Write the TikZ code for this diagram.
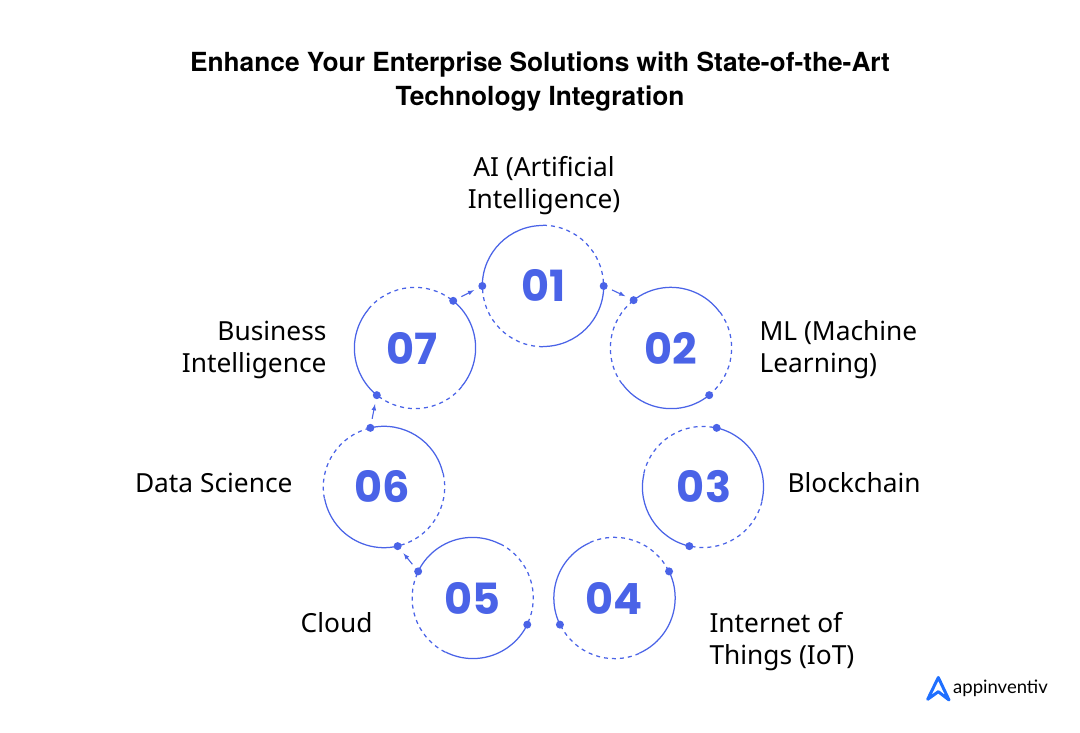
\documentclass[tikz,border=0pt]{standalone}
\usepackage{fontspec}
\setmainfont{Noto Sans}
\newfontfamily\titlefont{TeX Gyre Heros}
\newfontfamily\numfont{Poppins}
\newfontfamily\logofont{Lato}
\usepackage{xcolor}
\definecolor{ringblue}{HTML}{4A63E7}
\definecolor{logoblue}{HTML}{1F6FFF}
\tikzset{
	ring/.style={circle, minimum size=121pt, inner sep=0pt},
	num/.style={text=ringblue, inner sep=0pt, font=\numfont\bfseries\fontsize{43}{43}\selectfont},
	solidarc/.style={draw=ringblue, line width=1.25pt},
	dasharc/.style={draw=ringblue, line width=1.25pt, dash pattern=on 4pt off 4pt},
	dot/.style={circle, fill=ringblue, minimum size=8pt, inner sep=0pt},
	flow/.style={draw=ringblue, line width=1.1pt, -latex},
	topic/.style={font=\fontsize{26.3}{32}\selectfont, text=black},
}
\begin{document}
\begin{tikzpicture}[x=1pt, y=1pt]
    \useasboundingbox (0,0) rectangle (1080,733);

    \node [font=\titlefont\bfseries\fontsize{26.3}{34}\selectfont, align=center] (title) at (540,651)
      {Enhance Your Enterprise Solutions with State-of-the-Art\\Technology Integration};

    \node [ring] (c1) at (543,447) {};
    \node [ring] (c2) at (671,385) {};
    \node [ring] (c3) at (703,246) {};
    \node [ring] (c4) at (614.5,135) {};
    \node [ring] (c5) at (472.7,135) {};
    \node [ring] (c6) at (384,246) {};
    \node [ring] (c7) at (415,385) {};

    \node [num] (n1) at (543.5,448) {01};
    \node [num] (n2) at (671,385) {02};
    \node [num] (n3) at (704,246) {03};
    \node [num] (n4) at (614,135) {04};
    \node [num] (n5) at (472,135) {05};
    \node [num] (n6) at (382.5,246) {06};
    \node [num] (n7) at (412,385) {07};

    % ring 1
    \draw [solidarc] (c1.180) arc[start angle=180, end angle=90, radius=60.5];
    \draw [dasharc] (c1.90) arc[start angle=90, end angle=0, radius=60.5];
    \draw [solidarc] (c1.0) arc[start angle=0, end angle=-90, radius=60.5];
    \draw [dasharc] (c1.-90) arc[start angle=-90, end angle=-180, radius=60.5];
    % ring 2
    \draw [solidarc] (c2.128) arc[start angle=128, end angle=36, radius=60.5];
    \draw [dasharc] (c2.36) arc[start angle=36, end angle=-51, radius=60.5];
    \draw [solidarc] (c2.-51) arc[start angle=-51, end angle=-144, radius=60.5];
    \draw [dasharc] (c2.-144) arc[start angle=-144, end angle=-232, radius=60.5];
    % ring 3
    \draw [solidarc] (c3.77) arc[start angle=77, end angle=-14, radius=60.5];
    \draw [dasharc] (c3.-14) arc[start angle=-14, end angle=-103, radius=60.5];
    \draw [solidarc] (c3.-103) arc[start angle=-103, end angle=-193, radius=60.5];
    \draw [dasharc] (c3.167) arc[start angle=167, end angle=77, radius=60.5];
    % ring 4
    \draw [solidarc] (c4.26) arc[start angle=26, end angle=-66, radius=60.5];
    \draw [dasharc] (c4.-66) arc[start angle=-66, end angle=-154, radius=60.5];
    \draw [solidarc] (c4.-154) arc[start angle=-154, end angle=-246, radius=60.5];
    \draw [dasharc] (c4.114) arc[start angle=114, end angle=26, radius=60.5];
    % ring 5
    \draw [solidarc] (c5.154) arc[start angle=154, end angle=63, radius=60.5];
    \draw [dasharc] (c5.63) arc[start angle=63, end angle=-26, radius=60.5];
    \draw [solidarc] (c5.-26) arc[start angle=-26, end angle=-117, radius=60.5];
    \draw [dasharc] (c5.-117) arc[start angle=-117, end angle=-206, radius=60.5];
    % ring 6
    \draw [solidarc] (c6.103) arc[start angle=103, end angle=13, radius=60.5];
    \draw [dasharc] (c6.13) arc[start angle=13, end angle=-77, radius=60.5];
    \draw [solidarc] (c6.-77) arc[start angle=-77, end angle=-169, radius=60.5];
    \draw [dasharc] (c6.191) arc[start angle=191, end angle=103, radius=60.5];
    % ring 7
    \draw [solidarc] (c7.51) arc[start angle=51, end angle=-40, radius=60.5];
    \draw [dasharc] (c7.-40) arc[start angle=-40, end angle=-129, radius=60.5];
    \draw [solidarc] (c7.-129) arc[start angle=-129, end angle=-220, radius=60.5];
    \draw [dasharc] (c7.140) arc[start angle=140, end angle=51, radius=60.5];

    \node [dot] (d1a) at (c1.180) {};
    \node [dot] (d1b) at (c1.0) {};
    \node [dot] (d2a) at (c2.128) {};
    \node [dot] (d2b) at (c2.-51) {};
    \node [dot] (d3a) at (c3.77) {};
    \node [dot] (d3b) at (c3.-103) {};
    \node [dot] (d4a) at (c4.26) {};
    \node [dot] (d4b) at (c4.-154) {};
    \node [dot] (d5a) at (c5.154) {};
    \node [dot] (d5b) at (c5.-26) {};
    \node [dot] (d6a) at (c6.103) {};
    \node [dot] (d6b) at (c6.-77) {};
    \node [dot] (d7a) at (c7.51) {};
    \node [dot] (d7b) at (c7.-129) {};

    \draw [flow, shorten <=5pt, shorten >=5pt] (d1b) -- (d2a);
    \draw [flow, shorten <=5pt, shorten >=5pt] (d7a) -- (d1a);
    \draw [flow, shorten <=5pt, shorten >=5pt] (d6a) -- (d7b);
    \draw [flow, shorten <=5pt, shorten >=5pt] (d5a) -- (d6b);

    \node [topic, align=center] (t1) at (544,547) {AI (Artificial\\Intelligence)};
    \node [topic, align=left, anchor=west] (t2) at (756,383) {ML (Machine\\Learning)};
    \node [topic, anchor=west] (t3) at (784,250) {Blockchain};
    \node [topic, align=left, anchor=west] (t4) at (706,91) {Internet of\\Things (IoT)};
    \node [topic, anchor=east] (t5) at (376,110) {Cloud};
    \node [topic, anchor=east] (t6) at (296,250) {Data Science};
    \node [topic, align=right, anchor=east] (t7) at (330,383) {Business\\Intelligence};

    \draw [logoblue, line width=3pt, line join=round] (927.7,33.7) -- (938.3,55.5) -- (949,33) -- (938.3,41.3) -- cycle;
    \node [font=\logofont\fontsize{18.5}{18.5}\selectfont, anchor=west, inner sep=0pt] (logo) at (953,45) {appinventiv};
\end{tikzpicture}
\end{document}
